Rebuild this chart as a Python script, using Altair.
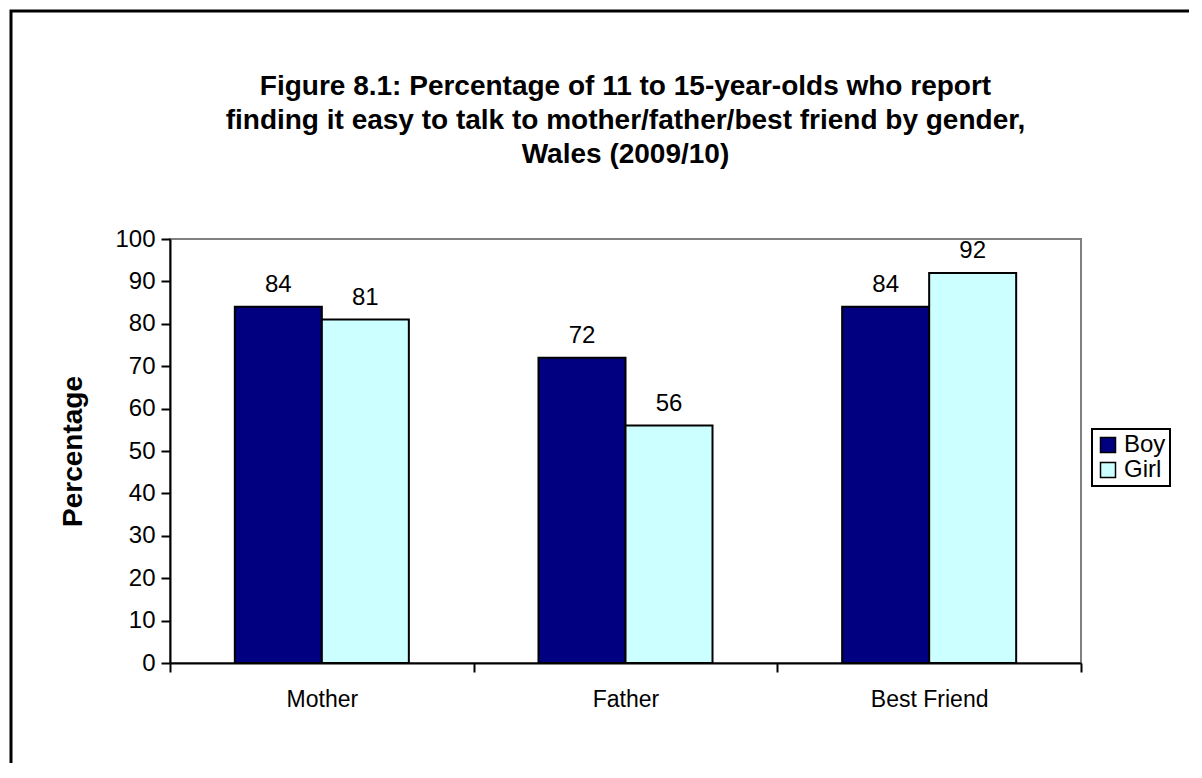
import altair as alt
import pandas as pd

categories = ["Mother", "Father", "Best Friend"]
genders = ["Boy", "Girl"]
boy_values = [84, 72, 84]
girl_values = [81, 56, 92]
y_ticks = [0, 10, 20, 30, 40, 50, 60, 70, 80, 90, 100]
colors = ["#000080", "#CCFFFF"]
title_lines = [
    "Figure 8.1: Percentage of 11 to 15-year-olds who report",
    "finding it easy to talk to mother/father/best friend by gender,",
    "Wales (2009/10)",
]

rows = []
for c, b, g in zip(categories, boy_values, girl_values):
    rows.append({"Category": c, "Gender": "Boy", "Value": b})
    rows.append({"Category": c, "Gender": "Girl", "Value": g})
df = pd.DataFrame(rows)

FONT = "Liberation Sans"
W, H = 911, 424

x_enc = alt.X(
    "Category:N",
    sort=categories,
    scale=alt.Scale(paddingInner=0, paddingOuter=0),
    axis=alt.Axis(
        title=None, labelAngle=0, tickBand="extent", tickSize=9, tickWidth=2,
        tickColor="black", domainColor="black", domainWidth=2,
        labelFontSize=23, labelFont=FONT, labelPadding=16, labelColor="black",
        grid=False,
    ),
)
y_enc = alt.Y(
    "Value:Q",
    scale=alt.Scale(domain=[0, 100], nice=False),
    axis=alt.Axis(
        title="Percentage", values=y_ticks, tickSize=9, tickWidth=2,
        tickColor="black", domainColor="black", domainWidth=2,
        labelFontSize=24, labelFont=FONT, labelPadding=6, labelColor="black",
        titleFontSize=28, titleFont=FONT, titleFontWeight="bold",
        titleColor="black", titlePadding=27, grid=False,
    ),
)
xoff_enc = alt.XOffset(
    "Gender:N", sort=genders,
    scale=alt.Scale(paddingInner=0, paddingOuter=0.745),
)

base = alt.Chart(df)

bars = base.mark_bar(stroke="black", strokeWidth=2).encode(
    x=x_enc,
    y=y_enc,
    xOffset=xoff_enc,
    color=alt.Color(
        "Gender:N",
        scale=alt.Scale(domain=genders, range=colors),
        legend=alt.Legend(
            title=None, orient="none", legendX=922, legendY=190,
            symbolType="square", symbolSize=225, symbolStrokeColor="black",
            symbolStrokeWidth=1.5, labelFontSize=24, labelFont=FONT,
            labelColor="black", padding=4, rowPadding=1, labelOffset=4,
            fillColor="white", strokeColor="black",
        ),
    ),
)

labels = base.mark_text(
    dy=-15, baseline="alphabetic", fontSize=24, font=FONT, color="black"
).encode(
    x=alt.X("Category:N", sort=categories),
    y=alt.Y("Value:Q"),
    xOffset=alt.XOffset("Gender:N", sort=genders),
    text="Value:Q",
)

border = alt.Chart(pd.DataFrame({"b": [0]})).mark_rect(
    fillOpacity=0, stroke="black", strokeWidth=3
).encode(
    x=alt.value(-159), x2=alt.value(W + 400),
    y=alt.value(-228), y2=alt.value(H + 400),
)

chart = alt.layer(border, bars, labels).properties(
    width=W,
    height=H,
    autosize=alt.AutoSizeParams(type="none"),
    padding={"left": 162, "top": 231, "right": 108, "bottom": 100},
    title=alt.Title(
        text=title_lines, fontSize=28, font=FONT, fontWeight="bold",
        lineHeight=34, anchor="middle", frame="group", offset=0, dy=159,
        color="black",
    ),
).configure_view(
    stroke="#808080", strokeWidth=2
).configure_legend(
    strokeWidth=2
)

chart.save("out.html", embed_options={"renderer": "svg", "actions": False})
